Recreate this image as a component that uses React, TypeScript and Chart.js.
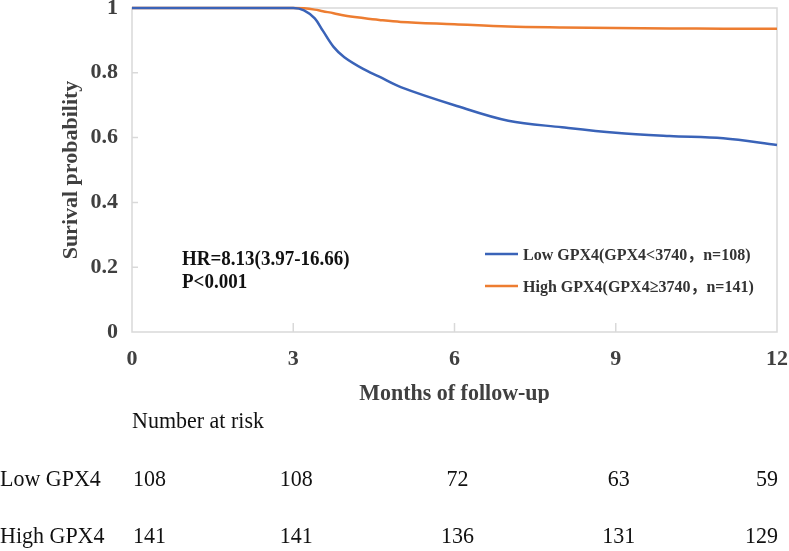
import { useEffect, useRef } from 'react'
import { Chart, registerables, type ChartConfiguration, type Plugin } from 'chart.js'

Chart.register(...registerables)

// follow-up time in months
const timePoints = [0, 3, 3.2, 3.4, 3.55, 3.75, 3.95, 4.3, 4.6, 5, 6, 7, 8, 9, 10, 11, 12]
const lowSurvival = [1, 1, 0.993, 0.968, 0.93, 0.88, 0.848, 0.812, 0.788, 0.756, 0.7, 0.652, 0.632, 0.615, 0.605, 0.598, 0.577]
const highSurvival = [1, 1, 0.999, 0.995, 0.99, 0.984, 0.977, 0.969, 0.963, 0.957, 0.95, 0.943, 0.94, 0.938, 0.937, 0.936, 0.936]

const seriesLabels = ['Low GPX4(GPX4<3740，n=108)', 'High GPX4(GPX4≥3740，n=141)']
const seriesColors = ['#3a63b8', '#ed7d31']

// number at risk table
const riskMonths = [0, 3, 6, 9, 12]
const riskGroups = ['Low GPX4', 'High GPX4']
const lowAtRisk = [108, 108, 72, 63, 59]
const highAtRisk = [141, 141, 136, 131, 129]

const hrText = ['HR=8.13(3.97-16.66)', 'P<0.001']

const SERIF = '"Liberation Serif", "Times New Roman", "Noto Sans CJK SC", serif'
const AXIS_GRAY = '#d9d9d9'
const LABEL_GRAY = '#404040'

// the source image is a little squeezed sideways, so text is drawn slightly taller
function tallText(ctx: CanvasRenderingContext2D, text: string, x: number, y: number, sy = 1.12) {
  ctx.save()
  ctx.translate(x, y)
  ctx.scale(1, sy)
  ctx.fillText(text, 0, 0)
  ctx.restore()
}

const kmDecor: Plugin<'line'> = {
  id: 'kmDecor',
  beforeDatasetsDraw(chart) {
    const { ctx, chartArea, scales } = chart
    const x = scales.x
    const y = scales.y
    ctx.save()
    ctx.strokeStyle = AXIS_GRAY
    ctx.lineWidth = 1.5
    ctx.strokeRect(chartArea.left, chartArea.top, chartArea.right - chartArea.left, chartArea.bottom - chartArea.top)
    // inward tick marks
    ctx.beginPath()
    for (const m of [3, 6, 9]) {
      const px = x.getPixelForValue(m)
      ctx.moveTo(px, chartArea.bottom)
      ctx.lineTo(px, chartArea.bottom - 9)
    }
    for (const v of [0.2, 0.4, 0.6, 0.8]) {
      const py = y.getPixelForValue(v)
      ctx.moveTo(chartArea.left, py)
      ctx.lineTo(chartArea.left + 6, py)
    }
    ctx.stroke()
    ctx.restore()
  },
  afterDraw(chart) {
    const { ctx, chartArea, scales } = chart
    const x = scales.x
    ctx.save()

    // axis titles
    ctx.fillStyle = LABEL_GRAY
    ctx.font = `bold 22px ${SERIF}`
    ctx.textAlign = 'center'
    ctx.textBaseline = 'alphabetic'
    ctx.save()
    ctx.beginPath()
    ctx.rect(0, 360, 789, 43)
    ctx.clip()
    tallText(ctx, 'Months of follow-up', (chartArea.left + chartArea.right) / 2, 400, 1.08)
    ctx.restore()

    ctx.save()
    ctx.translate(77, (chartArea.top + chartArea.bottom) / 2)
    ctx.rotate(-Math.PI / 2)
    ctx.fillText('Surival probability', 0, 0)
    ctx.restore()

    // HR / p value
    ctx.fillStyle = '#111'
    ctx.font = `bold 19px ${SERIF}`
    ctx.textAlign = 'left'
    tallText(ctx, hrText[0], 182, 265, 1.15)
    tallText(ctx, hrText[1], 182, 288, 1.15)

    // legend
    ctx.font = `bold 16px ${SERIF}`
    ctx.textBaseline = 'middle'
    seriesLabels.forEach((label, i) => {
      const ly = 254 + i * 32
      ctx.strokeStyle = seriesColors[i]
      ctx.lineWidth = 2.5
      ctx.beginPath()
      ctx.moveTo(485, ly)
      ctx.lineTo(518, ly)
      ctx.stroke()
      ctx.fillStyle = '#333'
      tallText(ctx, label, 523, ly + 1, 1.1)
    })

    // number at risk
    ctx.fillStyle = '#111'
    ctx.font = `22px ${SERIF}`
    ctx.textAlign = 'left'
    tallText(ctx, 'Number at risk', x.getPixelForValue(0), 422, 1.08)
    const rows = [lowAtRisk, highAtRisk]
    rows.forEach((row, r) => {
      const ry = 480 + r * 57
      ctx.textAlign = 'left'
      tallText(ctx, riskGroups[r], 0, ry, 1.08)
      row.forEach((n, c) => {
        const px = x.getPixelForValue(riskMonths[c])
        ctx.textAlign = c === 0 ? 'left' : c === row.length - 1 ? 'right' : 'center'
        tallText(ctx, String(n), c === 0 || c === row.length - 1 ? px + 1 : px + 3, ry, 1.08)
      })
    })
    ctx.restore()
  },
}

function KaplanMeierChart() {
  const canvasRef = useRef<HTMLCanvasElement | null>(null)
  const chartRef = useRef<Chart<'line'> | null>(null)

  useEffect(() => {
    document.body.style.margin = '0'
    const canvas = canvasRef.current
    if (!canvas) {
      return
    }
    const context = canvas.getContext('2d')
    if (!context) {
      return
    }
    chartRef.current?.destroy()

    const config: ChartConfiguration<'line'> = {
      type: 'line',
      data: {
        datasets: [
          {
            label: seriesLabels[0],
            data: timePoints.map((t, i) => ({ x: t, y: lowSurvival[i] })),
            borderColor: seriesColors[0],
            borderWidth: 2.5,
            pointRadius: 0,
            tension: 0.35,
            clip: false,
          },
          {
            label: seriesLabels[1],
            data: timePoints.map((t, i) => ({ x: t, y: highSurvival[i] })),
            borderColor: seriesColors[1],
            borderWidth: 2.5,
            pointRadius: 0,
            tension: 0.35,
            clip: false,
          },
        ],
      },
      options: {
        animation: false,
        responsive: false,
        devicePixelRatio: 1,
        layout: { padding: { top: 8, right: 12, bottom: 0, left: 0 } },
        plugins: {
          legend: { display: false },
          tooltip: { enabled: false },
        },
        scales: {
          x: {
            type: 'linear',
            min: 0,
            max: 12,
            border: { display: false },
            grid: { display: false, drawTicks: false },
            ticks: {
              stepSize: 3,
              padding: 14,
              color: LABEL_GRAY,
              font: { family: SERIF, size: 22, weight: 'bold' },
              maxRotation: 0,
            },
            afterFit: (scale) => {
              scale.height = 219
              scale.paddingLeft = 0
              scale.paddingRight = 0
            },
          },
          y: {
            min: 0,
            max: 1,
            border: { display: false },
            grid: { display: false, drawTicks: false },
            ticks: {
              stepSize: 0.2,
              padding: 14,
              color: LABEL_GRAY,
              font: { family: SERIF, size: 22, weight: 'bold' },
              callback: (value) => {
                const v = Number(value)
                return v === 0 || v === 1 ? String(v) : v.toFixed(1)
              },
            },
            afterFit: (scale) => {
              scale.width = 132
              scale.paddingTop = 0
              scale.paddingBottom = 0
            },
          },
        },
      },
      plugins: [kmDecor],
    }

    chartRef.current = new Chart(context, config)

    return () => {
      chartRef.current?.destroy()
      chartRef.current = null
    }
  }, [])

  return (
    <div style={{ width: 789, height: 551, background: '#fff' }}>
      <canvas ref={canvasRef} width={789} height={551} aria-label="Kaplan-Meier survival curves by GPX4" role="img" />
    </div>
  )
}

export default function App() {
  return <KaplanMeierChart />
}
